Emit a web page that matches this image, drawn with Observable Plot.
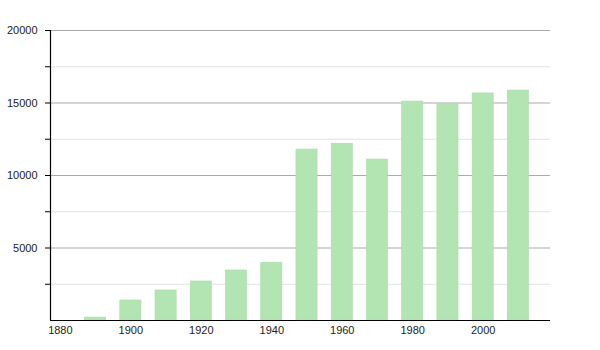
<!DOCTYPE html>
<html>
<head>
<meta charset="utf-8">
<script src="https://cdn.jsdelivr.net/npm/d3@7"></script>
<script src="https://cdn.jsdelivr.net/npm/@observablehq/plot@0.6"></script>
<style>
  html, body { margin: 0; padding: 0; background: #fff; }
  #chart svg { display: block; }
</style>
</head>
<body>
<div id="chart"></div>
<script>
const years = [1890, 1900, 1910, 1920, 1930, 1940, 1950, 1960, 1970, 1980, 1990, 2000, 2010];
const population = [200, 1380, 2070, 2690, 3450, 3980, 11790, 12190, 11100, 15100, 14950, 15660, 15860];
const xTickLabels = [1880, 1900, 1920, 1940, 1960, 1980, 2000];
const yMajorTicks = [5000, 10000, 15000, 20000];
const yMinorTicks = [2500, 7500, 12500, 17500];

const data = years.map((y, i) => ({year: y, value: population[i]}));
const xDomain = [1877.2, 2019.1];

const chart = Plot.plot({
  width: 600,
  height: 350,
  marginTop: 30,
  marginBottom: 30,
  marginLeft: 50,
  marginRight: 50,
  style: {fontFamily: "'Liberation Sans', Arial, sans-serif", fontSize: "11px", color: "#222", background: "#fff"},
  x: {domain: xDomain},
  y: {domain: [0, 20000]},
  marks: [
    Plot.ruleY(yMinorTicks, {stroke: "#e2e2e2", strokeWidth: 1}),
    Plot.ruleY(yMajorTicks, {stroke: "#ababab", strokeWidth: 1}),
    Plot.rectY(data, {x1: d => d.year - 3, x2: d => d.year + 3, y: "value", fill: "#b3e5b3", stroke: "#a9dca9", strokeWidth: 0.6}),
    Plot.axisY({ticks: [...yMinorTicks, ...yMajorTicks], tickSize: 5, tickPadding: 8,
      tickFormat: d => (d % 5000 === 0 ? String(d) : ""), label: null, stroke: "#000"}),
    Plot.axisX({ticks: xTickLabels, tickSize: 0, tickPadding: 6, tickFormat: d => String(d), label: null}),
    Plot.ruleX([xDomain[0]], {stroke: "#000", strokeWidth: 1.2}),
    Plot.ruleY([0], {stroke: "#000", strokeWidth: 1.2})
  ]
});
document.getElementById("chart").appendChild(chart);
</script>
</body>
</html>
